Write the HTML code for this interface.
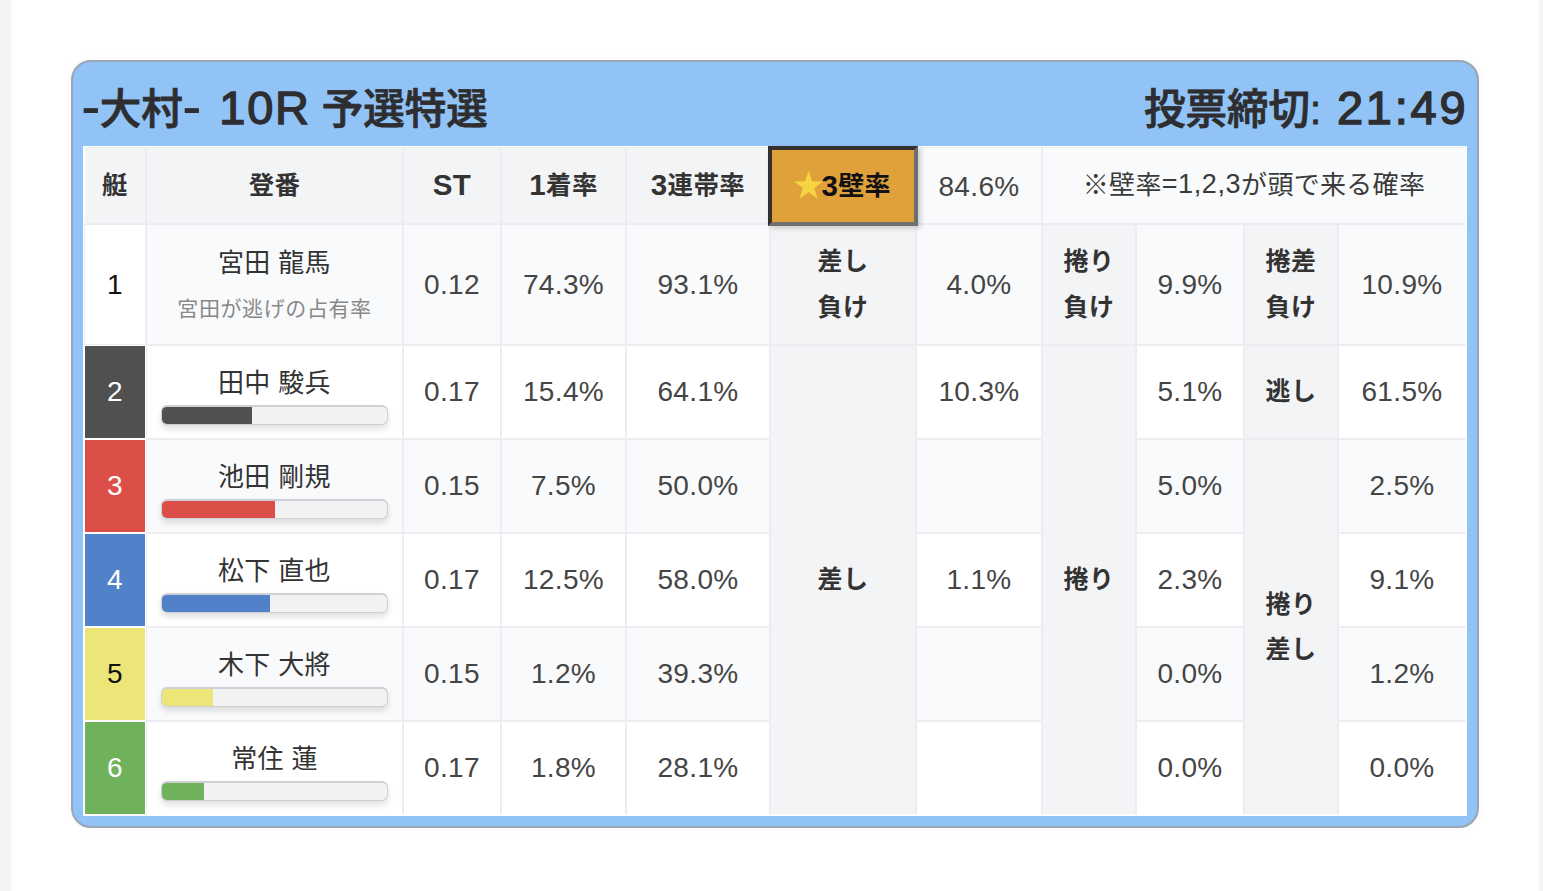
<!DOCTYPE html>
<html lang="ja">
<head>
<meta charset="utf-8">
<title>大村 10R 予選特選</title>
<style>
html,body{margin:0;padding:0;}
body{width:1543px;height:891px;background:#fff;position:relative;overflow:hidden;
  font-family:"Liberation Sans","Noto Sans CJK JP",sans-serif;color:#333;}
.strip{position:absolute;top:0;height:891px;background:#f3f4f6;}
.card{position:absolute;left:71px;top:60px;width:1408px;height:768px;box-sizing:border-box;
  border:2px solid #9ba6b5;border-radius:20px;background:#91c3f7;
  box-shadow:0 0 10px rgba(0,0,0,0.04);}
.title{position:absolute;top:78px;font-size:41.5px;font-weight:500;-webkit-text-stroke:0.8px #2e2e30;color:#2e2e30;white-space:nowrap;line-height:60px;}
.title .n{font-size:47px;}
.title .hy{font-weight:bold;-webkit-text-stroke:0;display:inline-block;transform:translateY(-3px) scaleX(1.35);}
.title .n{letter-spacing:2.8px;font-weight:normal;-webkit-text-stroke:1.4px #2e2e30;}
.grid{position:absolute;left:83px;top:146px;width:1384px;height:670px;box-sizing:border-box;padding:1px;background:#fff;
  display:grid;grid-template-columns:62px 257px 98px 125px 144px 146px 126px 94px 108px 94px 128px;
  grid-template-rows:77px 121px 94px 94px 94px 94px 94px;}
.c{box-sizing:border-box;border:1px solid #ecedf0;display:flex;align-items:center;justify-content:center;
  font-size:28px;color:#454545;text-align:center;letter-spacing:0.35px;}
.h{background:#f3f4f6;font-weight:bold;color:#333;font-size:25.5px;padding-bottom:6px;}
.h .n,.star .n{font-size:29.5px;position:relative;top:2px;}
.o{background:#f9fafb;}
.w{background:#fff;}
.lb{background:#f3f4f6;font-weight:bold;color:#333;font-size:25px;line-height:45.5px;letter-spacing:0.5px;}
.boat{border-color:#fff;}
.nm{position:relative;display:block;font-size:26px;color:#333;}
.nm .name{position:absolute;left:0;right:0;top:19.5px;line-height:34px;}
.nm.r1 .name{top:20.6px;}
.nm .sub{position:absolute;left:0;right:0;top:71.2px;font-size:21px;color:#888;line-height:26px;letter-spacing:0.6px;}
.bar{position:absolute;left:14.3px;top:59.3px;width:227px;height:19.5px;box-sizing:border-box;border-style:solid;border-color:#cfd0d5;border-width:2px 1px 1px 1px;border-radius:6px;background:#f2f2f3;
  box-shadow:0 4px 6px rgba(0,0,0,0.12);overflow:hidden;}
.bar i{position:absolute;left:0;top:0;bottom:0;}
.lc{border-right-color:#fff;}
.lr{border-bottom-color:#fff;}
.star{background:#e0a13a;font-weight:bold;font-size:26px;color:#111;margin:-1px -2px -2px -2px;
  border-width:4px;border-style:solid;border-color:#34302d #6c6e70 #707070 #34302d;box-shadow:3px 2px 5px rgba(0,0,0,0.18);z-index:2;padding-bottom:5px;padding-right:2px;}
.star .s{color:#f6d442;font-size:31px;position:relative;top:-1px;margin-left:0;margin-right:-3px;}
.note{font-weight:normal;font-size:26px;color:#3a3a3a;letter-spacing:0.3px;padding-bottom:6px;}
.note .n2{position:relative;top:2px;font-size:27px;letter-spacing:0.6px;}
</style>
</head>
<body>
<div class="strip" style="left:0;width:11px"></div>
<div class="strip" style="left:1539px;width:4px"></div>
<div class="card"></div>
<div class="title" style="left:84px"><span class="hy">-</span><span style="margin-left:2px">大村</span><span class="hy" style="margin-left:2px">-</span> <span class="n" style="margin-left:9px;letter-spacing:1.8px">10R</span> <span style="margin-left:-0.5px">予選特選</span></div>
<div class="title" style="right:74.5px">投票締切<span style="margin-left:-0.3px">:</span> <span class="n" style="margin-left:4px">21:49</span></div>

<div class="grid">
  <!-- header -->
  <div class="c h" style="border-left-color:#fff">艇</div>
  <div class="c h">登番</div>
  <div class="c h"><span class="n">ST</span></div>
  <div class="c h"><span class="n">1</span>着率</div>
  <div class="c h"><span class="n">3</span>連帯率</div>
  <div class="c star"><span class="s">★</span><span class="n">3</span>壁率</div>
  <div class="c o" style="padding:3px 0 0">84.6%</div>
  <div class="c lc o note" style="grid-column:span 4">※壁率<span class="n2">=1,2,3</span>が頭で来る確率</div>

  <!-- row 1 -->
  <div class="c w" style="color:#111">1</div>
  <div class="c o nm r1"><div class="name">宮田 龍馬</div><div class="sub">宮田が逃げの占有率</div></div>
  <div class="c o">0.12</div>
  <div class="c o">74.3%</div>
  <div class="c o">93.1%</div>
  <div class="c lb">差し<br>負け</div>
  <div class="c o">4.0%</div>
  <div class="c lb">捲り<br>負け</div>
  <div class="c o">9.9%</div>
  <div class="c lb">捲差<br>負け</div>
  <div class="c lc o">10.9%</div>

  <!-- row 2 -->
  <div class="c boat" style="background:#505050;color:#fff">2</div>
  <div class="c w nm"><div class="name">田中 駿兵</div><div class="bar"><i style="width:90px;background:#505050"></i></div></div>
  <div class="c w">0.17</div>
  <div class="c w">15.4%</div>
  <div class="c w">64.1%</div>
  <div class="c lr lb" style="grid-row:span 5">差し</div>
  <div class="c w">10.3%</div>
  <div class="c lr lb" style="grid-row:span 5">捲り</div>
  <div class="c w">5.1%</div>
  <div class="c lb">逃し</div>
  <div class="c lc w">61.5%</div>

  <!-- row 3 -->
  <div class="c boat" style="background:#dc4f48;color:#fff">3</div>
  <div class="c o nm"><div class="name">池田 剛規</div><div class="bar"><i style="width:112.5px;background:#dc4f48"></i></div></div>
  <div class="c o">0.15</div>
  <div class="c o">7.5%</div>
  <div class="c o">50.0%</div>
  <div class="c o"></div>
  <div class="c o">5.0%</div>
  <div class="c lr lb" style="grid-row:span 4">捲り<br>差し</div>
  <div class="c lc o">2.5%</div>

  <!-- row 4 -->
  <div class="c boat" style="background:#5081c9;color:#fff">4</div>
  <div class="c w nm"><div class="name">松下 直也</div><div class="bar"><i style="width:107.7px;background:#5081c9"></i></div></div>
  <div class="c w">0.17</div>
  <div class="c w">12.5%</div>
  <div class="c w">58.0%</div>
  <div class="c w">1.1%</div>
  <div class="c w">2.3%</div>
  <div class="c lc w">9.1%</div>

  <!-- row 5 -->
  <div class="c boat" style="background:#ebe677;color:#111">5</div>
  <div class="c o nm"><div class="name">木下 大將</div><div class="bar"><i style="width:50.7px;background:#ebe677"></i></div></div>
  <div class="c o">0.15</div>
  <div class="c o">1.2%</div>
  <div class="c o">39.3%</div>
  <div class="c o"></div>
  <div class="c o">0.0%</div>
  <div class="c lc o">1.2%</div>

  <!-- row 6 -->
  <div class="c lr boat" style="background:#6fb25b;color:#fff">6</div>
  <div class="c lr w nm"><div class="name">常住 蓮</div><div class="bar"><i style="width:42px;background:#6fb25b"></i></div></div>
  <div class="c lr w">0.17</div>
  <div class="c lr w">1.8%</div>
  <div class="c lr w">28.1%</div>
  <div class="c lr w"></div>
  <div class="c lr w">0.0%</div>
  <div class="c lc lr w">0.0%</div>
</div>
</body>
</html>
